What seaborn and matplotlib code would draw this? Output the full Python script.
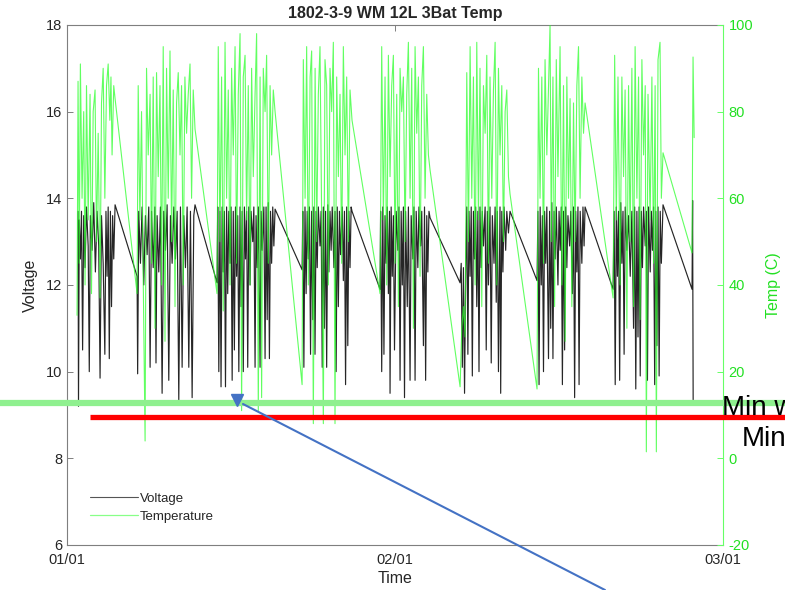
import matplotlib
matplotlib.use("Agg")
import matplotlib.pyplot as plt
import matplotlib.transforms as mtransforms
from matplotlib.lines import Line2D
import pandas as pd
import seaborn as sns

# ---------------- data (time in days since 01/01) ----------------
title = "1802-3-9 WM 12L 3Bat Temp"
x_tick_pos = [0, 29.5, 59]
x_tick_labels = ["01/01", "02/01", "03/01"]
volt_ticks = [6, 8, 10, 12, 14, 16, 18]
temp_ticks = [-20, 0, 20, 40, 60, 80, 100]
min_levels_v = [9.28, 8.95]          # annotated minimum lines (voltage units)
annot_texts = ["Min w", "Min"]

volt_c1 = [(0.99, 13.7), (1.03, 9.2), (1.1, 13.5), (1.2, 12.6), (1.3, 13.7), (1.4, 10.5), (1.5, 13.6),
           (1.62, 12.4), (1.75, 13.8), (1.9, 12.9), (2.0, 10.0), (2.1, 13.6), (2.25, 12.8), (2.4, 13.9),
           (2.55, 12.3), (2.7, 13.7), (2.85, 12.9), (2.97, 9.85), (3.1, 13.6), (3.25, 12.5), (3.4, 10.4),
           (3.5, 13.7), (3.6, 12.2), (3.7, 13.8), (3.8, 10.3), (3.9, 13.7), (4.0, 11.5), (4.1, 13.6),
           (4.2, 12.6), (4.32, 13.85)]
volt_c2 = [(6.30, 12.2), (6.35, 9.95), (6.45, 13.7), (6.6, 12.5), (6.75, 13.8), (6.9, 12.0), (7.05, 13.6),
           (7.2, 12.7), (7.35, 13.8), (7.47, 10.1), (7.6, 13.7), (7.75, 12.4), (7.9, 13.8), (8.0, 10.2),
           (8.1, 13.6), (8.25, 12.3), (8.4, 13.8), (8.55, 9.5), (8.7, 13.7), (8.85, 12.8), (9.0, 13.85),
           (9.15, 9.8), (9.3, 13.6), (9.45, 12.5), (9.6, 13.8), (9.75, 12.6), (9.9, 13.7), (10.05, 9.35),
           (10.2, 13.8), (10.35, 10.1), (10.5, 13.6), (10.65, 12.4), (10.8, 13.8), (10.95, 10.1),
           (11.1, 13.7), (11.25, 9.4), (11.4, 13.6), (11.51, 13.85)]
volt_c3 = [(13.49, 12.05), (13.55, 13.8), (13.65, 10.0), (13.75, 13.7), (13.85, 9.65), (13.95, 13.8),
           (14.05, 12.3), (14.15, 13.7), (14.25, 9.65), (14.35, 13.8), (14.45, 11.8), (14.55, 13.7),
           (14.66, 12.5), (14.75, 13.8), (14.85, 9.8), (14.95, 13.7), (15.05, 10.5), (15.15, 13.8),
           (15.25, 12.2), (15.35, 13.6), (15.45, 10.0), (15.56, 13.8), (15.65, 11.5), (15.75, 13.7),
           (15.85, 10.0), (15.95, 13.8), (16.05, 12.6), (16.15, 13.7), (16.25, 10.1), (16.35, 13.8),
           (16.46, 12.0), (16.55, 13.7), (16.7, 13.0), (16.8, 13.8), (16.91, 10.1), (17.0, 13.6),
           (17.1, 12.4), (17.2, 13.8), (17.36, 10.1), (17.45, 13.7), (17.55, 12.8), (17.7, 13.8),
           (17.81, 10.3), (17.9, 13.8), (18.0, 11.2), (18.1, 13.9), (18.2, 10.3), (18.3, 13.7),
           (18.4, 12.5), (18.5, 13.8), (18.6, 12.9), (18.71, 13.75)]
volt_c4 = [(21.14, 12.35), (21.2, 13.7), (21.3, 10.1), (21.4, 13.8), (21.5, 11.8), (21.6, 13.7),
           (21.7, 12.6), (21.8, 13.8), (21.9, 10.4), (22.0, 13.7), (22.1, 11.2), (22.2, 13.8),
           (22.3, 10.4), (22.4, 13.7), (22.5, 12.4), (22.6, 13.8), (22.75, 12.9), (22.85, 13.7),
           (22.95, 10.1), (23.05, 13.8), (23.15, 11.0), (23.25, 13.7), (23.35, 10.1), (23.45, 13.85),
           (23.55, 12.3), (23.65, 13.7), (23.75, 12.8), (23.85, 13.8), (24.0, 12.4), (24.1, 13.7),
           (24.2, 10.0), (24.3, 13.8), (24.4, 11.5), (24.5, 13.7), (24.6, 12.7), (24.75, 13.8),
           (24.85, 12.1), (24.95, 13.7), (25.05, 9.7), (25.15, 13.8), (25.25, 10.6), (25.35, 13.7),
           (25.45, 12.4), (25.55, 13.8), (25.63, 13.7)]
volt_c5 = [(28.15, 11.9), (28.2, 13.7), (28.3, 10.0), (28.4, 13.8), (28.5, 10.4), (28.6, 13.6),
           (28.7, 12.5), (28.8, 13.8), (28.9, 11.8), (29.0, 13.7), (29.05, 9.5), (29.15, 13.8),
           (29.25, 12.2), (29.35, 13.6), (29.45, 10.5), (29.6, 13.7), (29.75, 12.8), (29.85, 13.8),
           (29.95, 9.8), (30.05, 13.7), (30.15, 12.0), (30.25, 13.8), (30.35, 9.4), (30.45, 13.7),
           (30.6, 11.5), (30.7, 13.8), (30.85, 9.8), (30.95, 13.6), (31.1, 12.6), (31.2, 13.8),
           (31.3, 9.8), (31.4, 13.7), (31.55, 12.4), (31.65, 13.8), (31.8, 12.9), (31.9, 13.7),
           (32.05, 10.6), (32.15, 13.8), (32.25, 9.8), (32.35, 13.6), (32.45, 12.3), (32.55, 13.7),
           (32.65, 13.55)]
volt_c6 = [(35.35, 12.05), (35.45, 12.5), (35.55, 10.1), (35.65, 12.4), (35.75, 9.5), (35.85, 12.2),
           (35.95, 13.8), (36.05, 10.4), (36.15, 13.7), (36.25, 12.2), (36.35, 13.8), (36.45, 9.9),
           (36.55, 13.7), (36.65, 12.6), (36.75, 13.8), (36.85, 11.5), (36.95, 13.7), (37.05, 10.0),
           (37.14, 13.8), (37.25, 12.4), (37.35, 13.7), (37.45, 12.9), (37.6, 13.8), (37.7, 10.5),
           (37.8, 13.7), (37.9, 12.0), (38.04, 13.8), (38.15, 10.2), (38.25, 13.6), (38.4, 12.5),
           (38.5, 13.8), (38.6, 11.6), (38.7, 13.7), (38.8, 10.0), (38.94, 13.8), (39.0, 9.5),
           (39.1, 13.7), (39.2, 12.3), (39.3, 13.8), (39.45, 12.8), (39.55, 13.7), (39.7, 13.2),
           (39.84, 13.7)]
volt_c7 = [(42.27, 12.1), (42.35, 13.7), (42.45, 9.7), (42.55, 13.8), (42.65, 12.0), (42.75, 13.6),
           (42.85, 10.0), (42.95, 13.7), (43.05, 12.5), (43.15, 13.8), (43.3, 10.3), (43.4, 13.7),
           (43.5, 11.0), (43.6, 13.9), (43.7, 10.3), (43.8, 13.7), (43.9, 12.6), (44.0, 13.8),
           (44.15, 12.0), (44.25, 13.7), (44.35, 12.8), (44.45, 13.8), (44.55, 9.7), (44.65, 13.7),
           (44.75, 10.5), (44.85, 13.8), (44.95, 12.4), (45.05, 13.6), (45.2, 12.9), (45.3, 13.7),
           (45.45, 11.8), (45.55, 13.8), (45.65, 9.4), (45.75, 13.7), (45.85, 12.3), (45.95, 13.8),
           (46.05, 9.7), (46.15, 13.7), (46.3, 12.5), (46.4, 13.8), (46.5, 12.9), (46.59, 13.8)]
volt_c8 = [(49.11, 11.9), (49.2, 13.7), (49.3, 9.7), (49.4, 13.8), (49.5, 12.2), (49.6, 13.7),
           (49.7, 9.8), (49.8, 13.9), (49.9, 12.5), (50.0, 13.7), (50.1, 10.4), (50.2, 13.8),
           (50.35, 12.8), (50.5, 13.6), (50.65, 12.2), (50.8, 13.7), (50.95, 11.0), (51.05, 13.8),
           (51.15, 9.6), (51.25, 13.7), (51.35, 10.8), (51.45, 13.8), (51.55, 9.9), (51.65, 13.7),
           (51.75, 12.4), (51.85, 13.8), (52.0, 12.9), (52.1, 13.7), (52.2, 9.8), (52.3, 13.8),
           (52.45, 12.3), (52.55, 13.7), (52.65, 12.8), (52.75, 13.8), (52.85, 9.7), (52.95, 13.7),
           (53.05, 10.6), (53.15, 13.8), (53.25, 9.9), (53.35, 13.7), (53.45, 12.5), (53.6, 13.85)]
volt_c9 = [(56.21, 11.9), (56.26, 13.95), (56.31, 9.35)]

temp_c1 = [(0.9, 33), (0.99, 87), (1.1, 45), (1.2, 91), (1.35, 60), (1.5, 80), (1.62, 40), (1.75, 86),
           (1.9, 55), (2.07, 84), (2.2, 38), (2.35, 80), (2.52, 85), (2.65, 50), (2.8, 75), (2.97, 37),
           (3.1, 82), (3.25, 90), (3.4, 60), (3.55, 86), (3.7, 91), (3.85, 78), (3.95, 88), (4.05, 70),
           (4.2, 86), (4.32, 83)]
temp_c2 = [(6.3, 38), (6.4, 86), (6.55, 55), (6.7, 80), (6.85, 42), (7.02, 4), (7.15, 90), (7.3, 70),
           (7.47, 84), (7.6, 45), (7.75, 88), (7.91, 30), (8.05, 89), (8.2, 65), (8.36, 86), (8.5, 40),
           (8.65, 95), (8.81, 27), (8.95, 90), (9.1, 60), (9.26, 94), (9.4, 50), (9.55, 85), (9.71, 35),
           (9.85, 82), (10.0, 89), (10.16, 70), (10.3, 86), (10.45, 40), (10.6, 88), (10.75, 75),
           (10.9, 84), (11.06, 91), (11.2, 60), (11.35, 85), (11.51, 76)]
temp_c3 = [(13.49, 38), (13.6, 95), (13.75, 50), (13.9, 88), (14.05, 34), (14.21, 96), (14.35, 60),
           (14.5, 85), (14.66, 40), (14.8, 90), (14.95, 70), (15.11, 95), (15.25, 45), (15.4, 84),
           (15.56, 98), (15.7, 11), (15.85, 88), (16.01, 93), (16.15, 55), (16.3, 86), (16.46, 40),
           (16.6, 90), (16.75, 65), (16.91, 84), (17.05, 98), (17.2, 11), (17.36, 88), (17.5, 14),
           (17.65, 90), (17.81, 80), (17.95, 93), (18.1, 45), (18.26, 86), (18.4, 70), (18.55, 85),
           (18.71, 80)]
temp_c4 = [(21.14, 17), (21.25, 92), (21.41, 60), (21.55, 95), (21.7, 40), (21.86, 88), (22.0, 94),
           (22.15, 8), (22.31, 90), (22.45, 50), (22.6, 84), (22.75, 95), (22.9, 55), (23.05, 8),
           (23.2, 92), (23.35, 86), (23.5, 40), (23.65, 90), (23.8, 80), (23.95, 96), (24.1, 8),
           (24.25, 88), (24.4, 65), (24.55, 84), (24.7, 45), (24.85, 95), (25.0, 70), (25.15, 88),
           (25.3, 50), (25.45, 85), (25.63, 78)]
temp_c5 = [(28.15, 38), (28.3, 95), (28.45, 55), (28.6, 88), (28.75, 40), (28.9, 93), (29.05, 65),
           (29.2, 86), (29.35, 93), (29.5, 45), (29.65, 84), (29.8, 35), (29.95, 90), (30.1, 80),
           (30.25, 88), (30.4, 50), (30.55, 84), (30.7, 96), (30.85, 60), (31.0, 90), (31.15, 30),
           (31.3, 95), (31.45, 75), (31.6, 88), (31.75, 42), (31.9, 86), (32.05, 95), (32.2, 60),
           (32.35, 84), (32.5, 70), (32.65, 66.5)]
temp_c6 = [(35.35, 16.5), (35.5, 30), (35.65, 35), (35.8, 28), (35.95, 89), (36.1, 50), (36.25, 95),
           (36.4, 60), (36.55, 88), (36.7, 40), (36.85, 96), (37.0, 55), (37.14, 90), (37.3, 35),
           (37.45, 86), (37.6, 75), (37.75, 93), (37.9, 45), (38.04, 88), (38.2, 60), (38.35, 85),
           (38.5, 96), (38.65, 40), (38.8, 90), (38.94, 70), (39.1, 86), (39.25, 50), (39.4, 80),
           (39.55, 85), (39.7, 65), (39.84, 61)]
temp_c7 = [(42.27, 16), (42.4, 90), (42.54, 60), (42.7, 88), (42.85, 45), (42.99, 92), (43.15, 70),
           (43.3, 86), (43.44, 100), (43.55, 50), (43.7, 88), (43.85, 35), (44.0, 92), (44.15, 65),
           (44.34, 95), (44.5, 40), (44.65, 86), (44.8, 27), (44.95, 88), (45.1, 60), (45.24, 83),
           (45.4, 35), (45.55, 82), (45.69, 50), (45.85, 86), (46.0, 95), (46.14, 60), (46.3, 88),
           (46.45, 75), (46.59, 82)]
temp_c8 = [(49.11, 37), (49.25, 93), (49.4, 55), (49.55, 88), (49.74, 40), (49.9, 88), (50.05, 65),
           (50.19, 85), (50.35, 30), (50.5, 86), (50.64, 50), (50.8, 90), (50.95, 35), (51.09, 95),
           (51.25, 60), (51.4, 88), (51.54, 32), (51.7, 92), (51.85, 70), (52.0, 86), (52.1, 1.5),
           (52.25, 84), (52.44, 55), (52.6, 88), (52.75, 45), (52.89, 86), (53.0, 1.5), (53.15, 92),
           (53.33, 96), (53.45, 60), (53.6, 70.5)]
temp_c9 = [(56.21, 47.4), (56.3, 92.6), (56.4, 74)]

# ---------------- assemble ----------------
volt_pts = volt_c1 + volt_c2 + volt_c3 + volt_c4 + volt_c5 + volt_c6 + volt_c7 + volt_c8 + volt_c9
temp_pts = temp_c1 + temp_c2 + temp_c3 + temp_c4 + temp_c5 + temp_c6 + temp_c7 + temp_c8 + temp_c9
volt_df = pd.DataFrame(volt_pts, columns=["time", "voltage"])
temp_df = pd.DataFrame(temp_pts, columns=["time", "temp"])

sns.set_style("white")
plt.rcParams["font.family"] = ["Liberation Sans", "DejaVu Sans"]
plt.rcParams["axes.unicode_minus"] = False

GREY = "#262626"
SPINE = "#7f7f7f"
GREEN_LINE = "#2cff2c"
GREEN_AX = "#66ff66"
GREEN_TXT = "#22e022"

fig = plt.figure(figsize=(7.85, 5.9), dpi=100)
ax = fig.add_axes([0.0854, 0.0763, 0.8357, 0.8814])
ax2 = ax.twinx()

sns.lineplot(data=volt_df, x="time", y="voltage", ax=ax, color="black", lw=0.85, alpha=0.85,
             sort=False, estimator=None, legend=False)
sns.lineplot(data=temp_df, x="time", y="temp", ax=ax2, color=GREEN_LINE, lw=0.8, alpha=0.75,
             sort=False, estimator=None, legend=False)

ax.set_xlim(x_tick_pos[0], x_tick_pos[-1])
ax.set_ylim(volt_ticks[0], volt_ticks[-1])
ax2.set_ylim(temp_ticks[0], temp_ticks[-1])
ax.set_xticks(x_tick_pos)
ax.set_xticklabels(x_tick_labels)
ax.set_yticks(volt_ticks)
ax2.set_yticks(temp_ticks)

ax.tick_params(axis="both", direction="in", length=4, width=0.7, colors=SPINE,
               labelcolor=GREY, labelsize=10.5, top=True, right=False)
ax.tick_params(axis="x", pad=6)
ax2.tick_params(axis="y", direction="in", length=4, width=0.7, colors=GREEN_AX,
                labelcolor=GREEN_TXT, labelsize=10.5, pad=4)

for name in ["left", "top", "bottom"]:
    ax.spines[name].set_color(SPINE)
    ax.spines[name].set_linewidth(0.8)
ax.spines["right"].set_visible(False)
for name in ["left", "top", "bottom"]:
    ax2.spines[name].set_visible(False)
ax2.spines["right"].set_color(GREEN_AX)
ax2.spines["right"].set_linewidth(0.8)

ax.set_xlabel("Time", fontsize=11.5, color=GREY, labelpad=3)
ax.set_ylabel("Voltage", fontsize=11.5, color=GREY, labelpad=6)
ax2.set_ylabel("Temp (C)", fontsize=11.5, color=GREEN_TXT, labelpad=9)
ax.set_title(title, fontsize=11.5, fontweight="bold", color=GREY, pad=5)

handles = [Line2D([], [], color="#555555", lw=0.8), Line2D([], [], color="#88ff88", lw=0.9)]
ax2.legend(handles, ["Voltage", "Temperature"], loc="lower left", bbox_to_anchor=(0.017, 0.02),
           frameon=False, fontsize=9.5, handlelength=3.6, handletextpad=0.2, labelspacing=0.45,
           labelcolor=GREY)

# ---------------- overlay annotations ----------------
blend = mtransforms.blended_transform_factory(fig.transFigure, ax.transData)
fig.add_artist(Line2D([0.0, 1.0], [min_levels_v[0]] * 2, transform=blend,
                      color="#8ff08f", lw=4.5, solid_capstyle="butt", zorder=5))
fig.add_artist(Line2D([90 / 785, 1.0], [min_levels_v[1]] * 2, transform=blend,
                      color="#ff0000", lw=3.8, solid_capstyle="butt", zorder=5))
fig.text(722 / 785, 1 - 415 / 590, annot_texts[0], fontsize=20, color="black",
         va="baseline", ha="left", zorder=6)
fig.text(742 / 785, 1 - 446 / 590, annot_texts[1], fontsize=20, color="black",
         va="baseline", ha="left", zorder=6)
fig.add_artist(Line2D([243 / 785, 605 / 785], [1 - 404 / 590, 0.0], transform=fig.transFigure,
                      color="#4472c4", lw=1.5, zorder=6))
fig.add_artist(Line2D([237 / 785], [1 - 400 / 590], transform=fig.transFigure, marker="v",
                      markersize=9, color="#4472c4", lw=0, zorder=6))

fig.savefig("out.png", dpi=100)
